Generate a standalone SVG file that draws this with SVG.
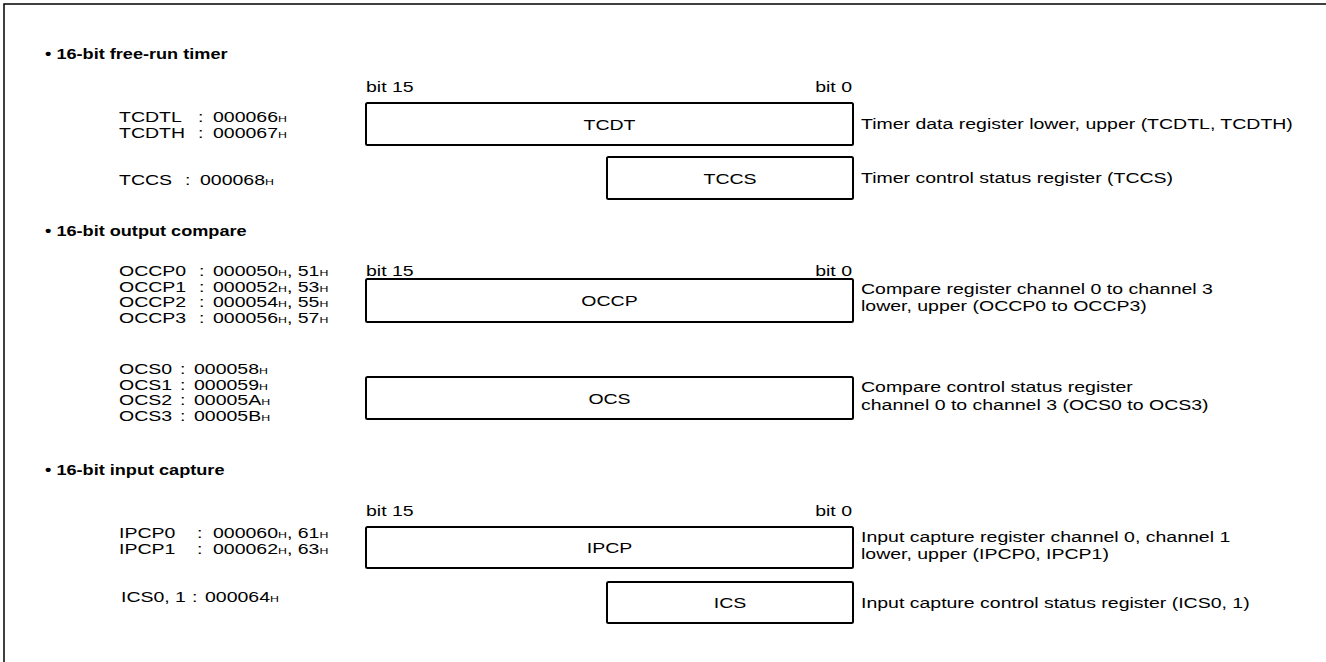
<svg xmlns="http://www.w3.org/2000/svg" width="1326" height="662" viewBox="0 0 1326 662">
<style>
text{font-family:"Liberation Sans",Arial,sans-serif;font-size:15px;fill:#000}
.hd{font-weight:bold;font-size:14.5px}
.c{text-anchor:middle}
.e{text-anchor:end}
.h{font-size:9.5px}
.box{fill:#fff;stroke:#000;stroke-width:2}
.frame{fill:none;stroke:#000;stroke-width:1.5}
</style>
<rect width="1326" height="662" fill="#fff"/>
<g id="frame"><path class="frame" d="M4,662 V4 H1326"/></g>

<g id="sec-frt">
<text class="hd" transform="translate(45,59) scale(1.25,1)">• 16-bit free-run timer</text>
<text transform="translate(366,92) scale(1.3,1)">bit 15</text>
<text class="e" transform="translate(852,92) scale(1.3,1)">bit 0</text>
<text transform="translate(119,122) scale(1.3,1)">TCDTL</text><text transform="translate(198,122) scale(1.3,1)">:</text><text transform="translate(213,122) scale(1.3,1)">000066<tspan class="h">H</tspan></text>
<text transform="translate(119,138) scale(1.3,1)">TCDTH</text><text transform="translate(198,138) scale(1.3,1)">:</text><text transform="translate(213,138) scale(1.3,1)">000067<tspan class="h">H</tspan></text>
<text transform="translate(119,184.5) scale(1.3,1)">TCCS</text><text transform="translate(185,184.5) scale(1.3,1)">:</text><text transform="translate(200,184.5) scale(1.3,1)">000068<tspan class="h">H</tspan></text>
</g>
<g id="TCDT">
<rect class="box" x="366" y="103" width="487" height="42" rx="1.5"/>
<text class="c" transform="translate(609.5,129.5) scale(1.3,1)">TCDT</text>
<text transform="translate(861,128.5) scale(1.3,1)">Timer data register lower, upper (TCDTL, TCDTH)</text>
</g>
<g id="TCCS">
<rect class="box" x="607" y="157" width="246" height="42" rx="1.5"/>
<text class="c" transform="translate(730,183.5) scale(1.3,1)">TCCS</text>
<text transform="translate(861,183) scale(1.3,1)">Timer control status register (TCCS)</text>
</g>

<g id="sec-oc">
<text class="hd" transform="translate(45,236) scale(1.25,1)">• 16-bit output compare</text>
<text transform="translate(366,275.5) scale(1.3,1)">bit 15</text>
<text class="e" transform="translate(852,275.5) scale(1.3,1)">bit 0</text>
<text transform="translate(119,276) scale(1.3,1)">OCCP0</text><text transform="translate(199,276) scale(1.3,1)">:</text><text transform="translate(213,276) scale(1.3,1)">000050<tspan class="h">H</tspan>, 51<tspan class="h">H</tspan></text>
<text transform="translate(119,291.5) scale(1.3,1)">OCCP1</text><text transform="translate(199,291.5) scale(1.3,1)">:</text><text transform="translate(213,291.5) scale(1.3,1)">000052<tspan class="h">H</tspan>, 53<tspan class="h">H</tspan></text>
<text transform="translate(119,307) scale(1.3,1)">OCCP2</text><text transform="translate(199,307) scale(1.3,1)">:</text><text transform="translate(213,307) scale(1.3,1)">000054<tspan class="h">H</tspan>, 55<tspan class="h">H</tspan></text>
<text transform="translate(119,322.5) scale(1.3,1)">OCCP3</text><text transform="translate(199,322.5) scale(1.3,1)">:</text><text transform="translate(213,322.5) scale(1.3,1)">000056<tspan class="h">H</tspan>, 57<tspan class="h">H</tspan></text>
<text transform="translate(119,374) scale(1.3,1)">OCS0</text><text transform="translate(180,374) scale(1.3,1)">:</text><text transform="translate(194,374) scale(1.3,1)">000058<tspan class="h">H</tspan></text>
<text transform="translate(119,389.5) scale(1.3,1)">OCS1</text><text transform="translate(180,389.5) scale(1.3,1)">:</text><text transform="translate(194,389.5) scale(1.3,1)">000059<tspan class="h">H</tspan></text>
<text transform="translate(119,405) scale(1.3,1)">OCS2</text><text transform="translate(180,405) scale(1.3,1)">:</text><text transform="translate(194,405) scale(1.3,1)">00005A<tspan class="h">H</tspan></text>
<text transform="translate(119,420.5) scale(1.3,1)">OCS3</text><text transform="translate(180,420.5) scale(1.3,1)">:</text><text transform="translate(194,420.5) scale(1.3,1)">00005B<tspan class="h">H</tspan></text>
</g>
<g id="OCCP">
<rect class="box" x="366" y="279" width="487" height="43" rx="1.5"/>
<text class="c" transform="translate(609.5,306) scale(1.3,1)">OCCP</text>
<text transform="translate(861,294) scale(1.3,1)">Compare register channel 0 to channel 3</text>
<text transform="translate(861,311) scale(1.3,1)">lower, upper (OCCP0 to OCCP3)</text>
</g>
<g id="OCS">
<rect class="box" x="366" y="377" width="487" height="42" rx="1.5"/>
<text class="c" transform="translate(609.5,403.5) scale(1.3,1)">OCS</text>
<text transform="translate(861,392) scale(1.3,1)">Compare control status register</text>
<text transform="translate(861,410) scale(1.3,1)">channel 0 to channel 3 (OCS0 to OCS3)</text>
</g>

<g id="sec-ic">
<text class="hd" transform="translate(45,475) scale(1.25,1)">• 16-bit input capture</text>
<text transform="translate(366,516) scale(1.3,1)">bit 15</text>
<text class="e" transform="translate(852,516) scale(1.3,1)">bit 0</text>
<text transform="translate(119,538) scale(1.3,1)">IPCP0</text><text transform="translate(197,538) scale(1.3,1)">:</text><text transform="translate(213,538) scale(1.3,1)">000060<tspan class="h">H</tspan>, 61<tspan class="h">H</tspan></text>
<text transform="translate(119,553.5) scale(1.3,1)">IPCP1</text><text transform="translate(197,553.5) scale(1.3,1)">:</text><text transform="translate(213,553.5) scale(1.3,1)">000062<tspan class="h">H</tspan>, 63<tspan class="h">H</tspan></text>
<text transform="translate(121,602) scale(1.3,1)">ICS0, 1</text><text transform="translate(192,602) scale(1.3,1)">:</text><text transform="translate(205,602) scale(1.3,1)">000064<tspan class="h">H</tspan></text>
</g>
<g id="IPCP">
<rect class="box" x="366" y="527" width="487" height="41" rx="1.5"/>
<text class="c" transform="translate(609.5,553) scale(1.3,1)">IPCP</text>
<text transform="translate(861,542) scale(1.3,1)">Input capture register channel 0, channel 1</text>
<text transform="translate(861,559) scale(1.3,1)">lower, upper (IPCP0, IPCP1)</text>
</g>
<g id="ICS">
<rect class="box" x="607" y="582" width="246" height="41" rx="1.5"/>
<text class="c" transform="translate(730,607.5) scale(1.3,1)">ICS</text>
<text transform="translate(861,607.5) scale(1.3,1)">Input capture control status register (ICS0, 1)</text>
</g>
<g id="connectors"/>
</svg>
